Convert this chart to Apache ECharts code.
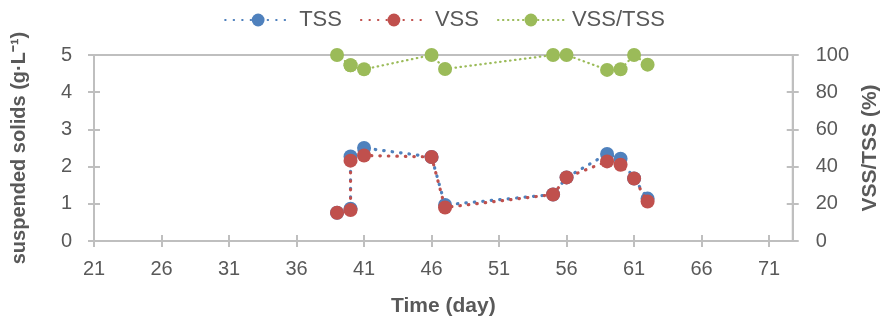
<!DOCTYPE html>
<html>
<head>
<meta charset="utf-8">
<script src="https://cdn.jsdelivr.net/npm/echarts@6/dist/echarts.min.js"></script>
<style>html,body{margin:0;padding:0;background:#fff;}#c{width:889px;height:322px;}</style>
</head>
<body>
<div id="c"></div>
<script>
const days = [39, 40, 40, 41, 46, 47, 55, 56, 59, 60, 61, 62];
const tss = [0.76, 0.87, 2.27, 2.50, 2.26, 0.97, 1.25, 1.71, 2.34, 2.21, 1.68, 1.14];
const vss = [0.76, 0.83, 2.16, 2.30, 2.26, 0.90, 1.25, 1.71, 2.14, 2.05, 1.68, 1.06];
const ratio = [100, 94.5, 94.5, 92.3, 100, 92.5, 100, 100, 92, 92.3, 100, 94.8];
const xTicks = [21, 26, 31, 36, 41, 46, 51, 56, 61, 66, 71];
const xMin = 21, xMax = 72.75;

const narrow = "'Liberation Sans Narrow','Arial Narrow','Liberation Sans',sans-serif";
const bold = "'Liberation Sans',Arial,sans-serif";
const grey = '#595959';
const axisGrey = '#BFBFBF';

const pairs = (ys) => days.map((d, i) => [d, ys[i]]);

const chart = echarts.init(document.getElementById('c'), null, {renderer: 'canvas'});
const tickOut = {show: true, inside: false, length: 6, lineStyle: {color: axisGrey, width: 2}};
const tickIn = {show: true, inside: true, length: 6, lineStyle: {color: axisGrey, width: 2}};
const lineAx = {show: true, lineStyle: {color: axisGrey, width: 2}};

chart.setOption({
  animation: false,
  backgroundColor: '#fff',
  grid: {left: 94, right: 91, top: 55, bottom: 79, show: true, borderColor: axisGrey, borderWidth: 2},
  legend: {
    top: 4, left: 'center', itemWidth: 66, itemHeight: 16, itemGap: 18,
    textStyle: {fontFamily: narrow, fontSize: 22, color: grey, padding: [0, 0, 0, 3]},
    data: ['TSS', 'VSS', 'VSS/TSS']
  },
  xAxis: [
    {
      type: 'value', min: xMin, max: xMax, position: 'bottom',
      axisLine: lineAx, axisTick: Object.assign({customValues: xTicks}, tickOut),
      axisLabel: {customValues: xTicks, fontFamily: narrow, fontSize: 20, color: grey, margin: 18},
      splitLine: {show: false},
      name: 'Time (day)', nameLocation: 'middle', nameGap: 55,
      nameTextStyle: {fontFamily: bold, fontWeight: 'bold', fontSize: 21, color: grey}
    },
    {
      type: 'value', min: xMin, max: xMax, position: 'bottom',
      axisLine: {show: false}, axisTick: Object.assign({customValues: xTicks}, tickIn),
      axisLabel: {show: false}, splitLine: {show: false}
    }
  ],
  yAxis: [
    {
      type: 'value', min: 0, max: 5, interval: 1, position: 'left',
      axisLine: lineAx, axisTick: tickOut,
      axisLabel: {fontFamily: narrow, fontSize: 20, color: grey, margin: 22},
      splitLine: {show: false},
      name: 'suspended solids (g·L⁻¹)', nameLocation: 'middle', nameGap: 65, nameRotate: 90,
      nameTextStyle: {fontFamily: bold, fontWeight: 'bold', fontSize: 20, color: grey}
    },
    {
      type: 'value', min: 0, max: 100, interval: 20, position: 'right',
      axisLine: lineAx, axisTick: tickOut,
      axisLabel: {fontFamily: narrow, fontSize: 20, color: grey, margin: 23},
      splitLine: {show: false},
      name: 'VSS/TSS (%)', nameLocation: 'middle', nameGap: 63, nameRotate: 90,
      nameTextStyle: {fontFamily: bold, fontWeight: 'bold', fontSize: 21, color: grey, verticalAlign: 'top'}
    },
    {
      type: 'value', min: 0, max: 5, interval: 1, position: 'left',
      axisLine: {show: false}, axisTick: tickIn, axisLabel: {show: false}, splitLine: {show: false}
    },
    {
      type: 'value', min: 0, max: 100, interval: 20, position: 'right',
      axisLine: {show: false}, axisTick: tickIn, axisLabel: {show: false}, splitLine: {show: false}
    }
  ],
  series: [
    {
      name: 'TSS', type: 'line', xAxisIndex: 0, yAxisIndex: 0, data: pairs(tss),
      symbol: 'circle', symbolSize: 14, color: '#4F81BD',
      lineStyle: {width: 3.2, type: [0.5, 8], cap: 'round', color: '#4F81BD'},
      itemStyle: {color: '#4F81BD'}, z: 2
    },
    {
      name: 'VSS', type: 'line', xAxisIndex: 0, yAxisIndex: 0, data: pairs(vss),
      symbol: 'circle', symbolSize: 14, color: '#C0504D',
      lineStyle: {width: 3.2, type: [0.5, 8], cap: 'round', color: '#C0504D'},
      itemStyle: {color: '#C0504D'}, z: 3
    },
    {
      name: 'VSS/TSS', type: 'line', xAxisIndex: 0, yAxisIndex: 1, data: pairs(ratio),
      symbol: 'circle', symbolSize: 14, color: '#9BBB59',
      lineStyle: {width: 2.2, type: [0.5, 4.5], cap: 'round', color: '#9BBB59'},
      itemStyle: {color: '#9BBB59'}, z: 2
    }
  ]
});
</script>
</body>
</html>
